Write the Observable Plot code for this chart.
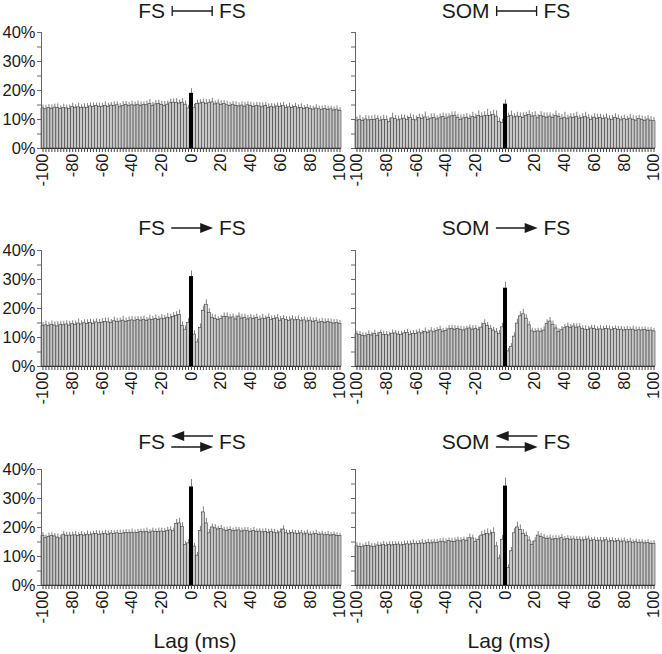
<!DOCTYPE html>
<html><head><meta charset="utf-8">
<script src="https://cdn.jsdelivr.net/npm/d3@7"></script>
<script src="https://cdn.jsdelivr.net/npm/@observablehq/plot@0.6"></script>
<style>
body{margin:0;background:#fff;}
#fig{position:relative;width:662px;height:654px;font-family:"Liberation Sans",Arial,sans-serif;color:#1a1a1a;overflow:hidden;}
.panel{position:absolute;}
.title{position:absolute;height:22px;font-size:21px;line-height:22px;display:flex;align-items:center;white-space:nowrap;transform:translateX(-50%);}
.title svg{margin:0 6px;}
.xlab{position:absolute;font-size:21px;line-height:22px;white-space:nowrap;transform:translateX(-50%);}
</style></head><body><div id="fig"></div>
<script>
// bin centres (ms), 2-ms bins
const lags = d3.range(-100, 101, 2);
const yTicks = [0, 5, 10, 15, 20, 25, 30, 35, 40];
const xLabels = [-100, -80, -60, -40, -20, 0, 20, 40, 60, 80, 100];

const titles = [
  {left: "FS", right: "FS", symbol: "gap"},
  {left: "SOM", right: "FS", symbol: "gap"},
  {left: "FS", right: "FS", symbol: "arrow"},
  {left: "SOM", right: "FS", symbol: "arrow"},
  {left: "FS", right: "FS", symbol: "both"},
  {left: "SOM", right: "FS", symbol: "both"}
];

// % of spikes, lags -100..100
const valsA = [13.8,13.5,14.0,13.7,14.1,13.9,13.6,14.0,13.8,13.6,
 14.3,14.0,14.2,13.9,14.1,14.0,14.5,14.3,14.6,14.4,
 14.4,14.7,14.3,14.8,14.6,14.9,14.2,14.7,15.0,14.6,
 14.9,14.8,15.1,14.6,15.0,14.9,15.3,14.7,15.2,15.4,
 15.0,14.7,15.1,15.6,15.8,15.7,15.5,15.8,15.1,13.8,
 19.0,
 14.0,15.3,15.5,15.8,15.4,15.6,15.9,15.2,15.5,15.0,
 15.3,14.9,14.6,15.1,14.7,14.5,14.8,14.4,14.9,14.6,
 14.3,14.7,14.5,14.2,14.6,14.0,14.4,14.1,14.5,14.3,
 14.6,14.0,14.2,13.9,14.3,13.8,14.0,13.6,13.9,13.7,
 13.4,13.8,13.5,13.2,13.6,13.3,13.5,13.1,13.4,13.0];
const errA = [1.2,1.4,1.1,1.3,1.2,1.5,1.1,1.3,1.2,1.4,
 1.3,1.1,1.4,1.2,1.3,1.5,1.2,1.4,1.1,1.3,
 1.2,1.4,1.3,1.1,1.5,1.2,1.3,1.4,1.2,1.3,
 1.4,1.2,1.3,1.5,1.1,1.4,1.6,1.2,1.3,1.2,
 1.3,1.5,1.2,1.4,1.3,1.5,1.2,1.4,1.3,1.1,
 1.6,
 1.2,1.4,1.3,1.2,1.5,1.3,1.4,1.2,1.3,1.5,
 1.2,1.4,1.3,1.1,1.4,1.2,1.3,1.5,1.2,1.3,
 1.4,1.2,1.3,1.5,1.2,1.4,1.1,1.3,1.2,1.4,
 1.3,1.2,1.4,1.1,1.3,1.2,1.4,1.2,1.3,1.1,
 1.2,1.3,1.1,1.4,1.2,1.3,1.1,1.2,1.3,1.1];

const valsB = [9.6,9.9,9.5,10.0,9.7,9.9,9.8,10.1,9.6,9.9,
 9.8,9.2,10.4,10.1,9.7,10.0,10.3,9.8,10.6,9.9,
 9.7,10.5,10.2,10.7,9.9,10.3,10.6,10.0,10.4,10.8,
 10.3,10.7,11.1,11.3,10.6,9.9,10.4,10.6,10.2,10.9,
 10.6,11.2,10.9,11.1,11.3,11.2,11.5,11.0,9.1,8.8,
 15.3,
 10.8,11.3,10.7,11.0,10.9,10.5,11.2,11.5,11.0,11.1,
 10.4,11.2,10.9,10.6,11.0,10.5,11.3,10.8,10.2,10.6,
 10.1,10.7,10.5,10.9,10.3,10.6,10.8,10.4,9.8,10.6,
 10.2,10.5,10.1,10.4,10.0,9.8,10.6,10.2,9.7,10.1,
 9.8,10.3,9.9,9.6,10.2,9.8,9.5,10.0,9.6,9.4];
const errB = [1.3,1.6,1.2,1.4,1.5,1.3,1.7,1.2,1.4,1.5,
 1.4,1.2,1.8,1.3,1.5,1.6,1.2,1.4,1.3,1.7,
 1.5,1.3,1.4,1.9,1.2,1.6,1.4,1.3,1.5,1.4,
 1.6,1.3,1.5,1.4,1.2,1.7,1.3,1.5,1.4,1.6,
 1.3,1.8,1.4,1.6,2.2,1.5,1.7,2.0,1.4,1.3,
 1.5,
 1.4,1.6,1.3,1.5,1.4,1.8,1.3,1.5,1.4,1.6,
 1.3,1.5,1.4,1.7,1.3,1.4,1.6,1.3,1.5,1.9,
 1.4,1.3,1.5,1.6,1.2,1.4,1.7,1.3,1.5,1.4,
 1.6,1.3,1.4,1.5,1.3,1.6,1.4,1.3,1.5,1.4,
 1.3,1.5,1.4,1.6,1.3,1.4,1.5,1.3,1.4,1.3];

const valsC = [13.9,14.2,14.0,14.3,14.1,13.8,14.4,14.2,14.5,14.1,
 14.6,14.3,14.8,14.5,14.9,14.6,15.0,14.7,15.2,14.9,
 15.1,15.4,15.2,15.0,15.6,15.3,15.5,15.8,15.4,15.7,
 15.9,15.6,16.0,15.8,16.1,15.7,16.2,16.0,16.4,16.1,
 16.5,16.3,16.8,16.6,17.0,17.4,17.8,14.0,12.7,15.0,
 31.0,
 11.0,8.3,13.3,19.2,21.3,18.4,16.7,16.4,16.0,16.3,
 17.0,17.1,16.6,16.9,16.2,17.2,16.5,16.8,16.2,16.6,
 16.4,16.7,16.1,16.5,16.3,16.8,16.0,16.4,16.6,15.8,
 16.3,16.0,15.7,16.2,15.9,16.1,15.6,15.9,15.5,15.8,
 15.3,15.6,15.1,15.4,15.0,15.3,15.1,14.8,15.0,14.6];
const errC = [1.3,1.5,1.2,1.4,1.3,1.6,1.2,1.4,1.3,1.5,
 1.2,1.4,1.6,1.3,1.2,1.5,1.3,1.4,1.2,1.3,
 1.4,1.3,1.5,1.2,1.4,1.3,1.2,1.5,1.3,1.4,
 1.3,1.5,1.2,1.4,1.3,1.2,1.5,1.3,1.4,1.2,
 1.4,1.3,1.5,1.4,1.6,1.5,1.7,1.4,1.3,1.5,
 1.9,
 1.3,1.2,1.4,1.6,1.7,1.5,1.3,1.4,1.2,1.3,
 1.5,1.4,1.3,1.2,1.4,1.3,1.5,1.2,1.4,1.3,
 1.2,1.4,1.3,1.5,1.2,1.3,1.4,1.2,1.3,1.4,
 1.3,1.2,1.4,1.3,1.2,1.4,1.3,1.2,1.3,1.2,
 1.4,1.2,1.3,1.2,1.4,1.2,1.3,1.4,1.2,1.3];

const valsD = [11.1,10.8,10.6,10.4,10.9,10.7,11.2,10.6,11.5,10.9,
 10.9,10.7,11.3,11.4,11.0,10.8,11.4,11.6,10.9,11.3,
 11.2,11.7,11.4,11.9,11.5,12.1,11.8,12.3,12.6,12.0,
 12.2,12.8,13.0,12.7,12.9,12.6,12.4,12.8,13.1,12.7,
 12.9,12.5,13.4,14.6,13.9,13.0,12.4,11.8,11.2,13.5,
 27.0,
 5.2,6.8,10.3,14.8,17.3,18.0,16.5,14.2,12.1,11.8,
 12.1,12.0,12.4,14.6,15.5,14.4,13.1,11.9,12.5,13.2,
 13.6,13.3,13.8,13.4,13.5,12.9,12.7,12.6,13.1,13.0,
 12.6,12.8,12.7,13.0,12.8,12.5,12.9,12.6,12.7,12.4,
 12.6,12.5,12.7,12.3,12.5,12.4,12.6,12.2,12.4,12.1];
const errD = [1.1,1.3,1.0,1.2,1.4,1.1,1.3,1.2,1.0,1.3,
 1.2,1.1,1.3,1.0,1.2,1.4,1.1,1.2,1.3,1.1,
 1.3,1.2,1.0,1.4,1.1,1.3,1.2,1.1,1.3,1.2,
 1.1,1.3,1.2,1.4,1.1,1.2,1.3,1.1,1.2,1.4,
 1.2,1.1,1.6,1.5,1.3,1.2,1.1,1.3,1.2,1.4,
 2.1,
 1.0,1.1,1.3,1.5,1.6,1.7,1.4,1.2,1.1,1.2,
 1.1,1.2,1.3,1.5,1.4,1.3,1.2,1.1,1.3,1.2,
 1.4,1.2,1.1,1.3,1.2,1.1,1.3,1.2,1.1,1.2,
 1.1,1.3,1.2,1.1,1.2,1.3,1.1,1.2,1.1,1.2,
 1.2,1.1,1.2,1.3,1.1,1.2,1.1,1.2,1.1,1.0];

const valsE = [17.0,16.3,16.8,17.0,16.9,16.5,16.2,17.5,17.1,17.2,
 17.2,17.3,17.1,17.4,17.2,17.5,17.3,17.6,17.7,17.5,
 17.6,17.8,17.5,17.9,17.7,18.0,17.8,17.9,18.1,18.0,
 18.2,18.0,18.1,18.4,18.3,18.5,18.2,18.6,18.4,18.5,
 18.6,18.5,18.8,19.0,18.7,21.2,21.4,20.2,14.0,14.5,
 34.0,
 13.4,10.3,18.8,25.2,21.4,18.0,20.0,19.7,19.3,19.5,
 19.0,18.8,19.1,18.7,18.9,19.0,18.6,18.9,18.7,18.5,
 18.8,18.4,18.6,18.3,18.5,18.1,18.4,18.2,18.0,18.3,
 19.3,18.0,17.8,18.1,17.9,17.7,18.0,17.6,17.9,17.5,
 17.6,17.8,17.4,17.6,17.3,17.5,17.2,17.4,17.1,17.0];
const errE = [1.2,1.1,1.3,1.2,1.0,1.3,1.1,1.2,1.3,1.1,
 1.2,1.3,1.1,1.2,1.0,1.3,1.2,1.1,1.2,1.3,
 1.1,1.2,1.3,1.1,1.2,1.0,1.3,1.2,1.1,1.2,
 1.3,1.1,1.2,1.0,1.2,1.3,1.1,1.2,1.1,1.3,
 1.2,1.1,1.3,1.2,1.1,1.6,1.8,1.5,1.2,1.3,
 2.5,
 1.2,1.1,1.6,1.9,1.7,1.3,1.2,1.3,1.1,1.2,
 1.1,1.3,1.2,1.1,1.2,1.0,1.2,1.1,1.3,1.1,
 1.2,1.1,1.0,1.2,1.1,1.3,1.1,1.2,1.0,1.2,
 1.3,1.1,1.2,1.0,1.1,1.2,1.0,1.1,1.2,1.0,
 1.1,1.2,1.0,1.1,1.0,1.2,1.1,1.0,1.1,1.0];

const valsF = [13.5,13.3,13.2,13.6,13.7,13.4,13.2,13.8,13.6,13.9,
 13.7,14.0,13.8,13.9,14.1,13.8,14.0,14.2,14.1,14.4,
 14.2,14.3,14.5,14.4,14.6,14.5,14.8,14.6,14.9,15.1,
 14.8,15.3,15.1,15.0,15.5,15.2,15.6,15.4,16.3,16.2,
 15.0,15.7,17.2,17.5,17.8,17.6,18.1,13.5,9.3,15.8,
 34.3,
 6.0,11.8,18.0,20.0,19.2,17.8,17.0,15.5,14.0,15.2,
 17.2,16.7,16.3,16.0,16.2,15.8,16.1,15.9,16.3,15.8,
 16.0,15.7,15.9,15.6,15.8,15.5,15.7,15.9,15.4,15.6,
 15.3,15.5,15.2,15.6,15.1,15.4,15.0,15.3,14.9,15.2,
 14.8,15.1,14.7,14.9,14.6,14.8,14.5,14.7,14.3,14.4];
const errF = [1.2,1.3,1.1,1.2,1.4,1.1,1.3,1.2,1.1,1.3,
 1.2,1.1,1.3,1.2,1.0,1.2,1.3,1.1,1.2,1.3,
 1.1,1.2,1.4,1.1,1.3,1.2,1.1,1.3,1.2,1.2,
 1.3,1.1,1.2,1.4,1.2,1.3,1.1,1.2,1.4,1.2,
 1.3,1.2,1.5,1.6,1.7,1.5,1.8,1.4,1.2,1.4,
 2.7,
 1.1,1.3,1.6,1.8,1.7,1.5,1.4,1.3,1.2,1.3,
 1.4,1.2,1.3,1.1,1.2,1.3,1.1,1.2,1.3,1.1,
 1.2,1.3,1.1,1.2,1.0,1.2,1.3,1.1,1.2,1.1,
 1.2,1.1,1.3,1.0,1.2,1.1,1.2,1.0,1.1,1.2,
 1.1,1.2,1.0,1.1,1.2,1.0,1.1,1.2,1.0,1.1];

const series = [[valsA, errA], [valsB, errB], [valsC, errC], [valsD, errD], [valsE, errE], [valsF, errF]];

const FONT = "'Liberation Sans', Arial, sans-serif";
const colLeft = [0, 314];
const rowTop = [22, 240, 459];
const titleY = [11, 228, 442];
const PW = 345, PH = 180, ML = 41, MR = 4, MT = 10, MB = 54;

function panel(vals, errs, showLabels) {
  const data = lags.map((lag, i) => ({lag, v: vals[i], e: errs[i]}));
  const bins = data.filter(d => d.lag !== 0);
  const zero = data.filter(d => d.lag === 0);
  return Plot.plot({
    width: PW, height: PH,
    marginLeft: ML, marginRight: MR, marginTop: MT, marginBottom: MB,
    style: {fontFamily: FONT, fontSize: "16.5px", color: "#1a1a1a", background: "transparent", overflow: "visible"},
    x: {type: "linear", domain: [d3.min(lags) - 1, d3.max(lags) + 1]},
    y: {domain: [0, 40]},
    marks: [
      Plot.ruleX(data, {x: "lag", y1: "v", y2: d => d.v + d.e, stroke: "#808080", strokeWidth: 1}),
      Plot.rectY(bins, {x1: d => d.lag - 1, x2: d => d.lag + 1, y: "v", fill: "#c8c8c8", stroke: "#3c3c3c", strokeWidth: 0.6}),
      Plot.rectY(zero, {x1: d => d.lag - 1, x2: d => d.lag + 1, y: "v", fill: "#000", insetLeft: -0.5, insetRight: -0.5}),
      Plot.ruleY([0], {stroke: "#333", strokeWidth: 1}),
      Plot.ruleX([d3.min(lags) - 1], {stroke: "#666", strokeWidth: 1}),
      Plot.axisY({ticks: yTicks, tickSize: 4, tickPadding: 2, stroke: "#666",
        tickFormat: d => (showLabels && d % 10 === 0) ? d + "%" : "", label: null}),
      Plot.axisX({ticks: lags, tickSize: 4, stroke: "#444", tickFormat: () => "", label: null}),
      Plot.axisX({ticks: xLabels, tickSize: 0, tickPadding: 5, tickRotate: -90,
        tickFormat: d => String(d), label: null})
    ]
  });
}

function symbol(kind) {
  if (kind === "gap") {
    return `<svg width="42" height="14" viewBox="0 0 42 14"><g stroke="#1a1a1a" stroke-width="1.4"><line x1="1" y1="7" x2="41" y2="7"/><line x1="1" y1="2" x2="1" y2="12"/><line x1="41" y1="2" x2="41" y2="12"/></g></svg>`;
  }
  if (kind === "arrow") {
    return `<svg width="42" height="14" viewBox="0 0 42 14"><line x1="0" y1="7" x2="32" y2="7" stroke="#1a1a1a" stroke-width="1.4"/><path d="M29,2 L42,7 L29,12 Z" fill="#1a1a1a"/></svg>`;
  }
  return `<svg width="42" height="24" viewBox="0 0 42 24"><line x1="10" y1="6" x2="42" y2="6" stroke="#1a1a1a" stroke-width="1.4"/><path d="M13,1 L0,6 L13,11 Z" fill="#1a1a1a"/><line x1="0" y1="17" x2="32" y2="17" stroke="#1a1a1a" stroke-width="1.4"/><path d="M29,12 L42,17 L29,22 Z" fill="#1a1a1a"/></svg>`;
}

const fig = document.getElementById("fig");
series.forEach(([vals, errs], k) => {
  const r = Math.floor(k / 2), c = k % 2;
  const svg = panel(vals, errs, c === 0);
  const wrap = document.createElement("div");
  wrap.className = "panel";
  wrap.style.left = colLeft[c] + "px";
  wrap.style.top = rowTop[r] + "px";
  wrap.appendChild(svg);
  fig.appendChild(wrap);

  const t = titles[k];
  const div = document.createElement("div");
  div.className = "title";
  div.style.left = (colLeft[c] + ML + (PW - ML - MR) / 2 + 1) + "px";
  div.style.top = Math.max(0, titleY[r] - 11) + "px";
  div.innerHTML = `<span>${t.left}</span>${symbol(t.symbol)}<span>${t.right}</span>`;
  fig.appendChild(div);
});
["Lag (ms)", "Lag (ms)"].forEach((txt, c) => {
  const d = document.createElement("div");
  d.className = "xlab";
  d.textContent = txt;
  d.style.left = (colLeft[c] + ML + (PW - ML - MR) / 2 + 4) + "px";
  d.style.top = "630px";
  fig.appendChild(d);
});
</script></body></html>
